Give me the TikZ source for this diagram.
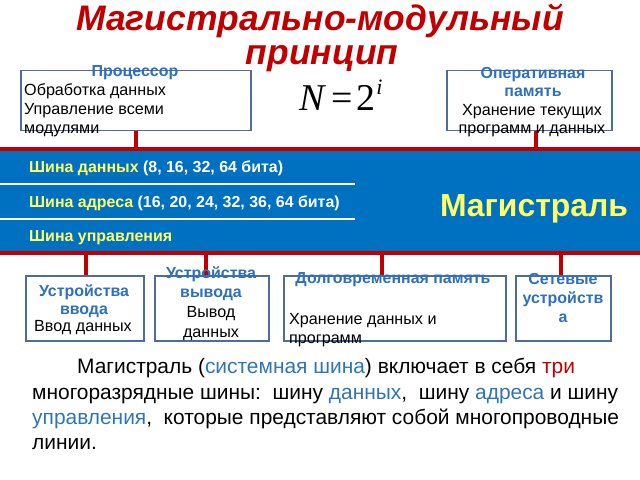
\documentclass[tikz,border=0pt]{standalone}
\usepackage{fontspec}
\setmainfont{Liberation Sans}
\newfontfamily\tmsfont{Liberation Serif}
\usetikzlibrary{calc}
\definecolor{titlered}{RGB}{192,0,0}
\definecolor{busblue}{RGB}{0,112,192}
\definecolor{busred}{RGB}{192,0,0}
\definecolor{boxline}{RGB}{79,107,160}
\definecolor{bluetext}{RGB}{46,112,185}
\definecolor{parablue}{RGB}{46,117,182}
\definecolor{busyellow}{RGB}{255,255,102}
\begin{document}
\begin{tikzpicture}[x=1bp,y=-1bp,
  box/.style={draw=boxline, line width=1.5bp, fill=white, inner sep=0, anchor=north west},
  conn/.style={draw=busred, line width=4bp},
  tc/.style={inner sep=0, anchor=base},
  tl/.style={inner sep=0, anchor=base west},
  bt/.style={font=\fontsize{16.2}{18}\selectfont},
  hd/.style={font=\fontsize{16}{18}\selectfont\bfseries, text=bluetext},
  bus/.style={font=\fontsize{16}{18}\selectfont\bfseries, text=white},
  para/.style={font=\fontsize{21}{24}\selectfont}
]
\useasboundingbox (0,0) rectangle (640,480);
% title
\node[tc, font=\fontsize{35.6}{40}\selectfont\bfseries\itshape, text=titlered] (t1) at (320,31) {Магистрально-модульный};
\node[tc, font=\fontsize{35.6}{40}\selectfont\bfseries\itshape, text=titlered] (t2) at (322,65) {принцип};
% formula
\node[tl, font=\fontsize{38}{40}\selectfont\tmsfont] (f) at (299,111) {\textit{N}\kern5bp=\kern4bp2\kern1bp\raisebox{16bp}{\fontsize{22}{22}\selectfont\textit{i}}};
% boxes
\node[box, minimum width=230bp, minimum height=60bp] (proc) at (20,70) {};
\node[box, minimum width=165bp, minimum height=60bp] (ram) at (446,70) {};
\node[box, minimum width=118bp, minimum height=65bp] (b1) at (25,275) {};
\node[box, minimum width=114bp, minimum height=65bp] (b2) at (154,275) {};
\node[box, minimum width=222bp, minimum height=65bp] (b3) at (283,275) {};
\node[box, minimum width=95bp, minimum height=65bp] (b4) at (515,275) {};
% bus
\node[fill=busblue, inner sep=0, anchor=north west, minimum width=640bp, minimum height=104bp] (bus) at (0,149) {};
% connectors
\coordinate (c1) at (proc.south);
\coordinate (c2) at ([xshift=7bp]ram.south);
\coordinate (c3) at ([xshift=1bp]b1.north);
\coordinate (c4) at ([xshift=-6bp]b2.north);
\coordinate (c5) at ([xshift=-13bp]b3.north);
\coordinate (c6) at ([xshift=-2bp]b4.north);
\draw[conn] (c1) -- (c1 |- bus.north);
\draw[conn] (c2) -- (c2 |- bus.north);
\draw[conn] (c3) -- (c3 |- bus.south);
\draw[conn] (c4) -- (c4 |- bus.south);
\draw[conn] (c5) -- (c5 |- bus.south);
\draw[conn] (c6) -- (c6 |- bus.south);
\draw[conn] (bus.north west) -- (bus.north east);
\draw[conn] (bus.south west) -- (bus.south east);
% white separators
\coordinate (s1) at (0,184);
\coordinate (s2) at (355,184);
\coordinate (s3) at (0,219);
\coordinate (s4) at (355,219);
\draw[white, line width=2bp] (s1) -- (s2);
\draw[white, line width=2bp] (s3) -- (s4);
% bus texts
\node[tl, bus] (l1) at (29,173) {\textcolor{busyellow}{Шина данных} (8, 16, 32, 64 бита)};
\node[tl, bus] (l2) at (29,208) {\textcolor{busyellow}{Шина адреса} (16, 20, 24, 32, 36, 64 бита)};
\node[tl, bus] (l3) at (29,242) {\textcolor{busyellow}{Шина управления}};
\node[tc, font=\fontsize{32}{34}\selectfont\bfseries, text=busyellow] (mag) at (534,217) {Магистраль};
% processor texts
\node[tc, hd] (p0) at (135,77) {Процессор};
\node[tl, bt] (p1) at (24,96) {Обработка данных};
\node[tl, bt] (p2) at (24,115) {Управление всеми};
\node[tl, bt] (p3) at (24,134) {модулями};
% ram texts
\node[tc, hd] (r0) at (533,79) {Оперативная};
\node[tc, hd] (r1) at (533,97) {память};
\node[tc, bt] (r2) at (532,116) {Хранение текущих};
\node[tc, bt] (r3) at (532,134) {программ и данных};
% bottom box texts
\node[tc, hd] (a0) at (84,296) {Устройства};
\node[tc, hd] (a1) at (84,314) {ввода};
\node[tc, bt] (a2) at (83,331) {Ввод данных};
\node[tc, hd] (d0) at (211,278) {Устройства};
\node[tc, hd] (d1) at (211,297) {вывода};
\node[tc, bt] (d2) at (211,317) {Вывод};
\node[tc, bt] (d3) at (211,337) {данных};
\node[tc, hd] (m0) at (393,283) {Долговременная память};
\node[tl, bt] (m1) at (289,324) {Хранение данных и};
\node[tl, bt] (m2) at (289,343) {программ};
\node[tc, hd] (n0) at (563,284) {Сетевые};
\node[tc, hd] (n1) at (563,303) {устройств};
\node[tc, hd] (n2) at (563,322) {а};
% paragraph
\node[tl, para] (q1) at (77,373) {Магистраль (\textcolor{parablue}{системная шина}) включает в себя \textcolor{titlered}{три}};
\node[tl, para] (q2) at (32,399) {многоразрядные шины:\ \ шину \textcolor{parablue}{данных},\ \ шину \textcolor{parablue}{адреса} и шину};
\node[tl, para] (q3) at (32,424) {\textcolor{parablue}{управления},\ \ которые представляют собой многопроводные};
\node[tl, para] (q4) at (32,449) {линии.};
\end{tikzpicture}
\end{document}
